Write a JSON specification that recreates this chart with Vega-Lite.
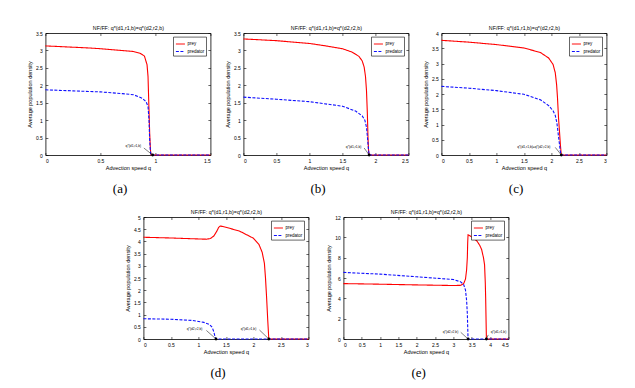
{
  "$schema": "https://vega.github.io/schema/vega-lite/v6.json",
  "autosize": "none",
  "padding": {"left": 45, "top": 33, "right": 590, "bottom": 355},
  "config": {
    "view": {"stroke": null},
    "font": "Liberation Sans",
    "axis": {"domainColor": "black", "domainWidth": 0.8, "tickColor": "black", "tickWidth": 0.6, "tickSize": -2.5, "labelFontSize": 5, "labelColor": "black", "labelFont": "Liberation Sans", "titleFont": "Liberation Sans", "titleFontSize": 5.5, "titleFontWeight": "normal", "titleColor": "black", "grid": false, "labelPadding": 5.5},
    "legend": {"orient": "top-right", "offset": 4, "strokeColor": "black", "fillColor": "white", "padding": 2, "labelFontSize": 4.5, "labelFont": "Liberation Sans", "labelColor": "black", "symbolType": "stroke", "symbolSize": 81, "symbolStrokeWidth": 1, "rowPadding": 0.5, "labelOffset": 2, "cornerRadius": 0, "strokeWidth": 0.6},
    "title": {"font": "Liberation Serif", "fontSize": 13, "fontWeight": "normal", "color": "black", "offset": 12, "anchor": "middle", "frame": "bounds"},
    "text": {"font": "Liberation Sans", "fontSize": 3.3, "color": "black"}
  },
  "datasets": {
    "a": [
      {"s": "prey", "q": 0, "v": 3.13}, {"s": "prey", "q": 0.2, "v": 3.1}, {"s": "prey", "q": 0.4, "v": 3.07}, {"s": "prey", "q": 0.5, "v": 3.05}, {"s": "prey", "q": 0.65, "v": 3.01}, {"s": "prey", "q": 0.8, "v": 2.97}, {"s": "prey", "q": 0.86, "v": 2.92}, {"s": "prey", "q": 0.9, "v": 2.84}, {"s": "prey", "q": 0.924, "v": 2.59}, {"s": "prey", "q": 0.933, "v": 2.25}, {"s": "prey", "q": 0.939, "v": 1.58}, {"s": "prey", "q": 0.948, "v": 0.62}, {"s": "prey", "q": 0.955, "v": 0.15}, {"s": "prey", "q": 0.96, "v": 0}, {"s": "prey", "q": 1.5, "v": 0},
      {"s": "predator", "q": 0, "v": 1.87}, {"s": "predator", "q": 0.25, "v": 1.84}, {"s": "predator", "q": 0.5, "v": 1.81}, {"s": "predator", "q": 0.7, "v": 1.76}, {"s": "predator", "q": 0.8, "v": 1.73}, {"s": "predator", "q": 0.88, "v": 1.63}, {"s": "predator", "q": 0.915, "v": 1.53}, {"s": "predator", "q": 0.933, "v": 1.39}, {"s": "predator", "q": 0.942, "v": 1.0}, {"s": "predator", "q": 0.948, "v": 0.43}, {"s": "predator", "q": 0.955, "v": 0.1}, {"s": "predator", "q": 0.96, "v": 0}, {"s": "predator", "q": 1.5, "v": 0}
    ],
    "b": [
      {"s": "prey", "q": 0, "v": 3.33}, {"s": "prey", "q": 0.5, "v": 3.28}, {"s": "prey", "q": 1, "v": 3.2}, {"s": "prey", "q": 1.25, "v": 3.13}, {"s": "prey", "q": 1.5, "v": 3.05}, {"s": "prey", "q": 1.65, "v": 2.95}, {"s": "prey", "q": 1.75, "v": 2.83}, {"s": "prey", "q": 1.8, "v": 2.7}, {"s": "prey", "q": 1.83, "v": 2.52}, {"s": "prey", "q": 1.85, "v": 2.25}, {"s": "prey", "q": 1.865, "v": 1.85}, {"s": "prey", "q": 1.878, "v": 1.2}, {"s": "prey", "q": 1.888, "v": 0.5}, {"s": "prey", "q": 1.897, "v": 0.1}, {"s": "prey", "q": 1.905, "v": 0}, {"s": "prey", "q": 2.5, "v": 0},
      {"s": "predator", "q": 0, "v": 1.66}, {"s": "predator", "q": 0.5, "v": 1.6}, {"s": "predator", "q": 1, "v": 1.53}, {"s": "predator", "q": 1.5, "v": 1.4}, {"s": "predator", "q": 1.7, "v": 1.26}, {"s": "predator", "q": 1.8, "v": 1.12}, {"s": "predator", "q": 1.84, "v": 1.0}, {"s": "predator", "q": 1.865, "v": 0.8}, {"s": "predator", "q": 1.88, "v": 0.5}, {"s": "predator", "q": 1.893, "v": 0.2}, {"s": "predator", "q": 1.905, "v": 0}, {"s": "predator", "q": 2.5, "v": 0}
    ],
    "c": [
      {"s": "prey", "q": 0, "v": 3.76}, {"s": "prey", "q": 0.5, "v": 3.7}, {"s": "prey", "q": 1, "v": 3.62}, {"s": "prey", "q": 1.5, "v": 3.51}, {"s": "prey", "q": 1.8, "v": 3.36}, {"s": "prey", "q": 1.95, "v": 3.18}, {"s": "prey", "q": 2.03, "v": 2.97}, {"s": "prey", "q": 2.07, "v": 2.7}, {"s": "prey", "q": 2.095, "v": 2.3}, {"s": "prey", "q": 2.11, "v": 1.9}, {"s": "prey", "q": 2.13, "v": 1.2}, {"s": "prey", "q": 2.15, "v": 0.7}, {"s": "prey", "q": 2.165, "v": 0.3}, {"s": "prey", "q": 2.18, "v": 0}, {"s": "prey", "q": 3, "v": 0},
      {"s": "predator", "q": 0, "v": 2.25}, {"s": "predator", "q": 0.5, "v": 2.19}, {"s": "predator", "q": 1, "v": 2.11}, {"s": "predator", "q": 1.5, "v": 1.99}, {"s": "predator", "q": 1.8, "v": 1.81}, {"s": "predator", "q": 1.95, "v": 1.62}, {"s": "predator", "q": 2.03, "v": 1.45}, {"s": "predator", "q": 2.07, "v": 1.3}, {"s": "predator", "q": 2.1, "v": 1.05}, {"s": "predator", "q": 2.12, "v": 0.75}, {"s": "predator", "q": 2.14, "v": 0.45}, {"s": "predator", "q": 2.16, "v": 0.15}, {"s": "predator", "q": 2.175, "v": 0}, {"s": "predator", "q": 3, "v": 0}
    ],
    "d": [
      {"s": "prey", "q": 0, "v": 4.17}, {"s": "prey", "q": 0.5, "v": 4.14}, {"s": "prey", "q": 1, "v": 4.1}, {"s": "prey", "q": 1.15, "v": 4.09}, {"s": "prey", "q": 1.22, "v": 4.12}, {"s": "prey", "q": 1.28, "v": 4.22}, {"s": "prey", "q": 1.33, "v": 4.4}, {"s": "prey", "q": 1.37, "v": 4.58}, {"s": "prey", "q": 1.4, "v": 4.63}, {"s": "prey", "q": 1.5, "v": 4.58}, {"s": "prey", "q": 1.75, "v": 4.42}, {"s": "prey", "q": 2.0, "v": 4.13}, {"s": "prey", "q": 2.1, "v": 3.88}, {"s": "prey", "q": 2.16, "v": 3.55}, {"s": "prey", "q": 2.2, "v": 3.1}, {"s": "prey", "q": 2.22, "v": 2.5}, {"s": "prey", "q": 2.24, "v": 1.7}, {"s": "prey", "q": 2.26, "v": 0.8}, {"s": "prey", "q": 2.28, "v": 0}, {"s": "prey", "q": 3, "v": 0},
      {"s": "predator", "q": 0, "v": 0.83}, {"s": "predator", "q": 0.5, "v": 0.81}, {"s": "predator", "q": 0.9, "v": 0.76}, {"s": "predator", "q": 1.1, "v": 0.68}, {"s": "predator", "q": 1.2, "v": 0.6}, {"s": "predator", "q": 1.25, "v": 0.48}, {"s": "predator", "q": 1.28, "v": 0.3}, {"s": "predator", "q": 1.3, "v": 0.12}, {"s": "predator", "q": 1.32, "v": 0}, {"s": "predator", "q": 3, "v": 0}
    ],
    "e": [
      {"s": "prey", "q": 0, "v": 5.45}, {"s": "prey", "q": 1, "v": 5.39}, {"s": "prey", "q": 2, "v": 5.32}, {"s": "prey", "q": 3, "v": 5.26}, {"s": "prey", "q": 3.2, "v": 5.28}, {"s": "prey", "q": 3.28, "v": 5.45}, {"s": "prey", "q": 3.33, "v": 5.9}, {"s": "prey", "q": 3.36, "v": 6.8}, {"s": "prey", "q": 3.38, "v": 8.0}, {"s": "prey", "q": 3.39, "v": 9.5}, {"s": "prey", "q": 3.4, "v": 10.25}, {"s": "prey", "q": 3.45, "v": 10.15}, {"s": "prey", "q": 3.55, "v": 9.9}, {"s": "prey", "q": 3.64, "v": 9.65}, {"s": "prey", "q": 3.72, "v": 9.2}, {"s": "prey", "q": 3.77, "v": 8.8}, {"s": "prey", "q": 3.82, "v": 8.0}, {"s": "prey", "q": 3.85, "v": 7.3}, {"s": "prey", "q": 3.87, "v": 5.5}, {"s": "prey", "q": 3.88, "v": 4.0}, {"s": "prey", "q": 3.89, "v": 2.0}, {"s": "prey", "q": 3.9, "v": 0}, {"s": "prey", "q": 4.5, "v": 0},
      {"s": "predator", "q": 0, "v": 6.55}, {"s": "predator", "q": 1, "v": 6.38}, {"s": "predator", "q": 2, "v": 6.12}, {"s": "predator", "q": 3, "v": 5.85}, {"s": "predator", "q": 3.2, "v": 5.62}, {"s": "predator", "q": 3.28, "v": 5.35}, {"s": "predator", "q": 3.33, "v": 4.8}, {"s": "predator", "q": 3.36, "v": 3.8}, {"s": "predator", "q": 3.38, "v": 2.5}, {"s": "predator", "q": 3.39, "v": 1.2}, {"s": "predator", "q": 3.4, "v": 0}, {"s": "predator", "q": 4.5, "v": 0}
    ],
    "an_a": [{"tx": 0.8, "ty": 0.25, "ax": 0.895, "ay": 0.2, "px": 0.975, "py": 0, "label": "q*(d1,r1,b)"}],
    "an_b": [{"tx": 1.67, "ty": 0.24, "ax": 1.83, "ay": 0.2, "px": 1.905, "py": 0, "label": "q*(d1,r1,b)"}],
    "an_c": [{"tx": 1.68, "ty": 0.27, "ax": 2.07, "ay": 0.25, "px": 2.18, "py": 0, "label": "q*(d1,r1,b)=q*(d2,r2,b)"}],
    "an_d": [{"tx": 0.93, "ty": 0.4, "ax": 1.145, "ay": 0.35, "px": 1.32, "py": 0, "label": "q*(d2,r2,b)"}, {"tx": 1.91, "ty": 0.4, "ax": 2.11, "ay": 0.37, "px": 2.28, "py": 0, "label": "q*(d1,r1,b)"}],
    "an_e": [{"tx": 2.92, "ty": 0.72, "ax": 3.2, "ay": 0.66, "px": 3.4, "py": 0, "label": "q*(d2,r2,b)"}, {"tx": 4.23, "ty": 0.66, "ax": 3.95, "ay": 0.4, "px": 3.9, "py": 0, "label": "q*(d1,r1,b)"}]
  },
  "center": true,
  "spacing": 13,
  "resolve": {"legend": {"color": "independent", "strokeDash": "independent"}},
  "vconcat": [
    {
      "hconcat": [
        {
          "width": 165, "height": 122,
          "title": {"text": "(a)", "orient": "bottom", "font": "Liberation Serif", "frame": "bounds", "anchor": "middle"},
          "resolve": {"axis": {"x": "independent", "y": "independent"}},
          "layer": [
            {"data": {"name": "a"}, "transform": [{"filter": "datum.s == 'prey'"}], "mark": {"type": "line", "strokeWidth": 1.1},
             "encoding": {"x": {"field": "q", "type": "quantitative", "scale": {"domain": [0, 1.5], "nice": false}, "axis": {"orient": "bottom", "values": [0, 0.5, 1, 1.5], "format": "~g", "title": "Advection speed q", "titlePadding": 2}},
              "y": {"field": "v", "type": "quantitative", "scale": {"domain": [0, 3.5], "nice": false}, "axis": {"orient": "left", "values": [0, 0.5, 1, 1.5, 2, 2.5, 3, 3.5], "format": "~g", "title": "Average population density", "titlePadding": 3}},
              "color": {"field": "s", "type": "nominal", "scale": {"domain": ["prey", "predator"], "range": ["#ff0000", "#1010ff"]}, "legend": {"title": null}},
              "strokeDash": {"field": "s", "type": "nominal", "scale": {"domain": ["prey", "predator"], "range": [[1, 0], [3, 1.5]]}, "legend": {"title": null}}}},
            {"data": {"name": "a"}, "transform": [{"filter": "datum.s == 'predator'"}], "mark": {"type": "line", "strokeWidth": 1.1},
             "encoding": {"x": {"field": "q", "type": "quantitative", "scale": {"domain": [0, 1.5], "nice": false}, "axis": null},
              "y": {"field": "v", "type": "quantitative", "scale": {"domain": [0, 3.5], "nice": false}, "axis": null},
              "color": {"field": "s", "type": "nominal", "scale": {"domain": ["prey", "predator"], "range": ["#ff0000", "#1010ff"]}, "legend": {"title": null}},
              "strokeDash": {"field": "s", "type": "nominal", "scale": {"domain": ["prey", "predator"], "range": [[1, 0], [3, 1.5]]}, "legend": {"title": null}}}},
            {"data": {"name": "an_a"}, "mark": {"type": "rule", "color": "black", "strokeWidth": 0.5},
             "encoding": {"x": {"field": "ax", "type": "quantitative", "scale": {"domain": [0, 1.5], "nice": false}, "axis": {"orient": "top", "labels": false, "values": [0, 0.5, 1, 1.5], "title": "NF/FF: q*(d1,r1,b)=q*(d2,r2,b)", "titleFontSize": 5.3, "titlePadding": 2}},
              "y": {"field": "ay", "type": "quantitative", "scale": {"domain": [0, 3.5], "nice": false}, "axis": {"orient": "right", "labels": false, "values": [0, 0.5, 1, 1.5, 2, 2.5, 3, 3.5], "title": null}},
              "x2": {"field": "px"}, "y2": {"field": "py"}}},
            {"data": {"name": "an_a"}, "mark": {"type": "text"},
             "encoding": {"x": {"field": "tx", "type": "quantitative", "axis": null}, "y": {"field": "ty", "type": "quantitative", "axis": null}, "text": {"field": "label"}}},
            {"data": {"name": "an_a"}, "mark": {"type": "point", "filled": true, "color": "black", "size": 8, "opacity": 1},
             "encoding": {"x": {"field": "px", "type": "quantitative", "axis": null}, "y": {"field": "py", "type": "quantitative", "axis": null}}}
          ]
        },
        {
          "width": 165, "height": 122,
          "title": {"text": "(b)", "orient": "bottom", "font": "Liberation Serif", "frame": "bounds", "anchor": "middle"},
          "resolve": {"axis": {"x": "independent", "y": "independent"}},
          "layer": [
            {"data": {"name": "b"}, "transform": [{"filter": "datum.s == 'prey'"}], "mark": {"type": "line", "strokeWidth": 1.1},
             "encoding": {"x": {"field": "q", "type": "quantitative", "scale": {"domain": [0, 2.5], "nice": false}, "axis": {"orient": "bottom", "values": [0, 0.5, 1, 1.5, 2, 2.5], "format": "~g", "title": "Advection speed q", "titlePadding": 2}},
              "y": {"field": "v", "type": "quantitative", "scale": {"domain": [0, 3.5], "nice": false}, "axis": {"orient": "left", "values": [0, 0.5, 1, 1.5, 2, 2.5, 3, 3.5], "format": "~g", "title": "Average population density", "titlePadding": 3}},
              "color": {"field": "s", "type": "nominal", "scale": {"domain": ["prey", "predator"], "range": ["#ff0000", "#1010ff"]}, "legend": {"title": null}},
              "strokeDash": {"field": "s", "type": "nominal", "scale": {"domain": ["prey", "predator"], "range": [[1, 0], [3, 1.5]]}, "legend": {"title": null}}}},
            {"data": {"name": "b"}, "transform": [{"filter": "datum.s == 'predator'"}], "mark": {"type": "line", "strokeWidth": 1.1},
             "encoding": {"x": {"field": "q", "type": "quantitative", "scale": {"domain": [0, 2.5], "nice": false}, "axis": null},
              "y": {"field": "v", "type": "quantitative", "scale": {"domain": [0, 3.5], "nice": false}, "axis": null},
              "color": {"field": "s", "type": "nominal", "scale": {"domain": ["prey", "predator"], "range": ["#ff0000", "#1010ff"]}, "legend": {"title": null}},
              "strokeDash": {"field": "s", "type": "nominal", "scale": {"domain": ["prey", "predator"], "range": [[1, 0], [3, 1.5]]}, "legend": {"title": null}}}},
            {"data": {"name": "an_b"}, "mark": {"type": "rule", "color": "black", "strokeWidth": 0.5},
             "encoding": {"x": {"field": "ax", "type": "quantitative", "scale": {"domain": [0, 2.5], "nice": false}, "axis": {"orient": "top", "labels": false, "values": [0, 0.5, 1, 1.5, 2, 2.5], "title": "NF/FF: q*(d1,r1,b)=q*(d2,r2,b)", "titleFontSize": 5.3, "titlePadding": 2}},
              "y": {"field": "ay", "type": "quantitative", "scale": {"domain": [0, 3.5], "nice": false}, "axis": {"orient": "right", "labels": false, "values": [0, 0.5, 1, 1.5, 2, 2.5, 3, 3.5], "title": null}},
              "x2": {"field": "px"}, "y2": {"field": "py"}}},
            {"data": {"name": "an_b"}, "mark": {"type": "text"},
             "encoding": {"x": {"field": "tx", "type": "quantitative", "axis": null}, "y": {"field": "ty", "type": "quantitative", "axis": null}, "text": {"field": "label"}}},
            {"data": {"name": "an_b"}, "mark": {"type": "point", "filled": true, "color": "black", "size": 8, "opacity": 1},
             "encoding": {"x": {"field": "px", "type": "quantitative", "axis": null}, "y": {"field": "py", "type": "quantitative", "axis": null}}}
          ]
        },
        {
          "width": 165, "height": 122,
          "title": {"text": "(c)", "orient": "bottom", "font": "Liberation Serif", "frame": "bounds", "anchor": "middle"},
          "resolve": {"axis": {"x": "independent", "y": "independent"}},
          "layer": [
            {"data": {"name": "c"}, "transform": [{"filter": "datum.s == 'prey'"}], "mark": {"type": "line", "strokeWidth": 1.1},
             "encoding": {"x": {"field": "q", "type": "quantitative", "scale": {"domain": [0, 3], "nice": false}, "axis": {"orient": "bottom", "values": [0, 0.5, 1, 1.5, 2, 2.5, 3], "format": "~g", "title": "Advection speed q", "titlePadding": 2}},
              "y": {"field": "v", "type": "quantitative", "scale": {"domain": [0, 4], "nice": false}, "axis": {"orient": "left", "values": [0, 0.5, 1, 1.5, 2, 2.5, 3, 3.5, 4], "format": "~g", "title": "Average population density", "titlePadding": 3}},
              "color": {"field": "s", "type": "nominal", "scale": {"domain": ["prey", "predator"], "range": ["#ff0000", "#1010ff"]}, "legend": {"title": null}},
              "strokeDash": {"field": "s", "type": "nominal", "scale": {"domain": ["prey", "predator"], "range": [[1, 0], [3, 1.5]]}, "legend": {"title": null}}}},
            {"data": {"name": "c"}, "transform": [{"filter": "datum.s == 'predator'"}], "mark": {"type": "line", "strokeWidth": 1.1},
             "encoding": {"x": {"field": "q", "type": "quantitative", "scale": {"domain": [0, 3], "nice": false}, "axis": null},
              "y": {"field": "v", "type": "quantitative", "scale": {"domain": [0, 4], "nice": false}, "axis": null},
              "color": {"field": "s", "type": "nominal", "scale": {"domain": ["prey", "predator"], "range": ["#ff0000", "#1010ff"]}, "legend": {"title": null}},
              "strokeDash": {"field": "s", "type": "nominal", "scale": {"domain": ["prey", "predator"], "range": [[1, 0], [3, 1.5]]}, "legend": {"title": null}}}},
            {"data": {"name": "an_c"}, "mark": {"type": "rule", "color": "black", "strokeWidth": 0.5},
             "encoding": {"x": {"field": "ax", "type": "quantitative", "scale": {"domain": [0, 3], "nice": false}, "axis": {"orient": "top", "labels": false, "values": [0, 0.5, 1, 1.5, 2, 2.5, 3], "title": "NF/FF: q*(d1,r1,b)=q*(d2,r2,b)", "titleFontSize": 5.3, "titlePadding": 2}},
              "y": {"field": "ay", "type": "quantitative", "scale": {"domain": [0, 4], "nice": false}, "axis": {"orient": "right", "labels": false, "values": [0, 0.5, 1, 1.5, 2, 2.5, 3, 3.5, 4], "title": null}},
              "x2": {"field": "px"}, "y2": {"field": "py"}}},
            {"data": {"name": "an_c"}, "mark": {"type": "text"},
             "encoding": {"x": {"field": "tx", "type": "quantitative", "axis": null}, "y": {"field": "ty", "type": "quantitative", "axis": null}, "text": {"field": "label"}}},
            {"data": {"name": "an_c"}, "mark": {"type": "point", "filled": true, "color": "black", "size": 8, "opacity": 1},
             "encoding": {"x": {"field": "px", "type": "quantitative", "axis": null}, "y": {"field": "py", "type": "quantitative", "axis": null}}}
          ]
        }
      ],
      "spacing": 33,
      "bounds": "flush",
      "resolve": {"legend": {"color": "independent", "strokeDash": "independent"}}
    },
    {
      "hconcat": [
        {
          "width": 165, "height": 122,
          "title": {"text": "(d)", "orient": "bottom", "font": "Liberation Serif", "frame": "bounds", "anchor": "middle"},
          "resolve": {"axis": {"x": "independent", "y": "independent"}},
          "layer": [
            {"data": {"name": "d"}, "transform": [{"filter": "datum.s == 'prey'"}], "mark": {"type": "line", "strokeWidth": 1.1},
             "encoding": {"x": {"field": "q", "type": "quantitative", "scale": {"domain": [0, 3], "nice": false}, "axis": {"orient": "bottom", "values": [0, 0.5, 1, 1.5, 2, 2.5, 3], "format": "~g", "title": "Advection speed q", "titlePadding": 2}},
              "y": {"field": "v", "type": "quantitative", "scale": {"domain": [0, 5], "nice": false}, "axis": {"orient": "left", "values": [0, 0.5, 1, 1.5, 2, 2.5, 3, 3.5, 4, 4.5, 5], "format": "~g", "title": "Average population density", "titlePadding": 3}},
              "color": {"field": "s", "type": "nominal", "scale": {"domain": ["prey", "predator"], "range": ["#ff0000", "#1010ff"]}, "legend": {"title": null}},
              "strokeDash": {"field": "s", "type": "nominal", "scale": {"domain": ["prey", "predator"], "range": [[1, 0], [3, 1.5]]}, "legend": {"title": null}}}},
            {"data": {"name": "d"}, "transform": [{"filter": "datum.s == 'predator'"}], "mark": {"type": "line", "strokeWidth": 1.1},
             "encoding": {"x": {"field": "q", "type": "quantitative", "scale": {"domain": [0, 3], "nice": false}, "axis": null},
              "y": {"field": "v", "type": "quantitative", "scale": {"domain": [0, 5], "nice": false}, "axis": null},
              "color": {"field": "s", "type": "nominal", "scale": {"domain": ["prey", "predator"], "range": ["#ff0000", "#1010ff"]}, "legend": {"title": null}},
              "strokeDash": {"field": "s", "type": "nominal", "scale": {"domain": ["prey", "predator"], "range": [[1, 0], [3, 1.5]]}, "legend": {"title": null}}}},
            {"data": {"name": "an_d"}, "mark": {"type": "rule", "color": "black", "strokeWidth": 0.5},
             "encoding": {"x": {"field": "ax", "type": "quantitative", "scale": {"domain": [0, 3], "nice": false}, "axis": {"orient": "top", "labels": false, "values": [0, 0.5, 1, 1.5, 2, 2.5, 3], "title": "NF/FF: q*(d1,r1,b)=q*(d2,r2,b)", "titleFontSize": 5.3, "titlePadding": 2}},
              "y": {"field": "ay", "type": "quantitative", "scale": {"domain": [0, 5], "nice": false}, "axis": {"orient": "right", "labels": false, "values": [0, 0.5, 1, 1.5, 2, 2.5, 3, 3.5, 4, 4.5, 5], "title": null}},
              "x2": {"field": "px"}, "y2": {"field": "py"}}},
            {"data": {"name": "an_d"}, "mark": {"type": "text"},
             "encoding": {"x": {"field": "tx", "type": "quantitative", "axis": null}, "y": {"field": "ty", "type": "quantitative", "axis": null}, "text": {"field": "label"}}},
            {"data": {"name": "an_d"}, "mark": {"type": "point", "filled": true, "color": "black", "size": 8, "opacity": 1},
             "encoding": {"x": {"field": "px", "type": "quantitative", "axis": null}, "y": {"field": "py", "type": "quantitative", "axis": null}}}
          ]
        },
        {
          "width": 165, "height": 122,
          "title": {"text": "(e)", "orient": "bottom", "font": "Liberation Serif", "frame": "bounds", "anchor": "middle"},
          "resolve": {"axis": {"x": "independent", "y": "independent"}},
          "layer": [
            {"data": {"name": "e"}, "transform": [{"filter": "datum.s == 'prey'"}], "mark": {"type": "line", "strokeWidth": 1.1},
             "encoding": {"x": {"field": "q", "type": "quantitative", "scale": {"domain": [0, 4.5], "nice": false}, "axis": {"orient": "bottom", "values": [0, 0.5, 1, 1.5, 2, 2.5, 3, 3.5, 4, 4.5], "format": "~g", "title": "Advection speed q", "titlePadding": 2}},
              "y": {"field": "v", "type": "quantitative", "scale": {"domain": [0, 12], "nice": false}, "axis": {"orient": "left", "values": [0, 2, 4, 6, 8, 10, 12], "format": "~g", "title": "Average population density", "titlePadding": 3}},
              "color": {"field": "s", "type": "nominal", "scale": {"domain": ["prey", "predator"], "range": ["#ff0000", "#1010ff"]}, "legend": {"title": null}},
              "strokeDash": {"field": "s", "type": "nominal", "scale": {"domain": ["prey", "predator"], "range": [[1, 0], [3, 1.5]]}, "legend": {"title": null}}}},
            {"data": {"name": "e"}, "transform": [{"filter": "datum.s == 'predator'"}], "mark": {"type": "line", "strokeWidth": 1.1},
             "encoding": {"x": {"field": "q", "type": "quantitative", "scale": {"domain": [0, 4.5], "nice": false}, "axis": null},
              "y": {"field": "v", "type": "quantitative", "scale": {"domain": [0, 12], "nice": false}, "axis": null},
              "color": {"field": "s", "type": "nominal", "scale": {"domain": ["prey", "predator"], "range": ["#ff0000", "#1010ff"]}, "legend": {"title": null}},
              "strokeDash": {"field": "s", "type": "nominal", "scale": {"domain": ["prey", "predator"], "range": [[1, 0], [3, 1.5]]}, "legend": {"title": null}}}},
            {"data": {"name": "an_e"}, "mark": {"type": "rule", "color": "black", "strokeWidth": 0.5},
             "encoding": {"x": {"field": "ax", "type": "quantitative", "scale": {"domain": [0, 4.5], "nice": false}, "axis": {"orient": "top", "labels": false, "values": [0, 0.5, 1, 1.5, 2, 2.5, 3, 3.5, 4, 4.5], "title": "NF/FF: q*(d1,r1,b)=q*(d2,r2,b)", "titleFontSize": 5.3, "titlePadding": 2}},
              "y": {"field": "ay", "type": "quantitative", "scale": {"domain": [0, 12], "nice": false}, "axis": {"orient": "right", "labels": false, "values": [0, 2, 4, 6, 8, 10, 12], "title": null}},
              "x2": {"field": "px"}, "y2": {"field": "py"}}},
            {"data": {"name": "an_e"}, "mark": {"type": "text"},
             "encoding": {"x": {"field": "tx", "type": "quantitative", "axis": null}, "y": {"field": "ty", "type": "quantitative", "axis": null}, "text": {"field": "label"}}},
            {"data": {"name": "an_e"}, "mark": {"type": "point", "filled": true, "color": "black", "size": 8, "opacity": 1},
             "encoding": {"x": {"field": "px", "type": "quantitative", "axis": null}, "y": {"field": "py", "type": "quantitative", "axis": null}}}
          ]
        }
      ],
      "spacing": 35,
      "bounds": "flush",
      "resolve": {"legend": {"color": "independent", "strokeDash": "independent"}}
    }
  ]
}
